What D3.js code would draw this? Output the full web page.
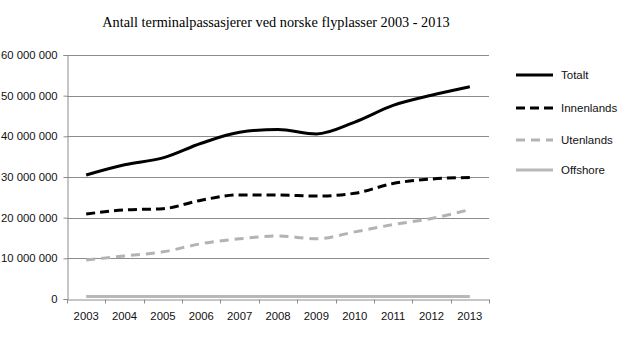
<!DOCTYPE html>
<html>
<head>
<meta charset="utf-8">
<script src="https://cdn.jsdelivr.net/npm/d3@7"></script>
<style>
	body { margin: 0; background: #fff; }
	svg { display: block; }
</style>
</head>
<body>
<svg id="chart"></svg>
<script>
var years = [2003, 2004, 2005, 2006, 2007, 2008, 2009, 2010, 2011, 2012, 2013];
var totalt = [30.5, 33.0, 34.7, 38.3, 41.0, 41.7, 40.6, 43.5, 47.6, 50.1, 52.2];
var innenlands = [20.9, 21.9, 22.2, 24.3, 25.6, 25.6, 25.3, 26.0, 28.4, 29.5, 29.9];
var utenlands = [9.6, 10.6, 11.6, 13.6, 14.8, 15.5, 14.8, 16.5, 18.3, 19.8, 22.0];
var offshore = [0.6, 0.6, 0.6, 0.6, 0.6, 0.6, 0.6, 0.6, 0.6, 0.6, 0.6];
var yTicks = [0, 10, 20, 30, 40, 50, 60];

var series = [
	{ name: "Totalt", values: totalt, color: "#000", dash: null, width: 3 },
	{ name: "Innenlands", values: innenlands, color: "#000", dash: "9,5", width: 3 },
	{ name: "Utenlands", values: utenlands, color: "#b3b3b3", dash: "9,6", width: 3 },
	{ name: "Offshore", values: offshore, color: "#b8b8b8", dash: null, width: 3 }
];

var w = 620, h = 337;
var margin = { left: 67, right: 131, top: 55, bottom: 38 };
var font = "'Liberation Sans', Arial, sans-serif";

var svg = d3.select("#chart")
	.attr("width", w)
	.attr("height", h);

var x = d3.scaleBand()
	.domain(years)
	.range([margin.left, w - margin.right]);

var y = d3.scaleLinear()
	.domain([0, 60])
	.range([h - margin.bottom, margin.top]);

// title
svg.append("text")
	.attr("x", 276)
	.attr("y", 26.5)
	.attr("text-anchor", "middle")
	.attr("font-family", "'Liberation Serif', 'Times New Roman', serif")
	.attr("font-size", "14.3px")
	.attr("fill", "#000")
	.text("Antall terminalpassasjerer ved norske flyplasser 2003 - 2013");

// horizontal gridlines
svg.append("g")
	.selectAll("line")
	.data(yTicks.slice(1))
	.enter().append("line")
	.attr("x1", margin.left)
	.attr("x2", w - margin.right)
	.attr("y1", function(d) { return Math.round(y(d)) + 0.5; })
	.attr("y2", function(d) { return Math.round(y(d)) + 0.5; })
	.attr("stroke", "#8c8c8c")
	.attr("stroke-width", 1);

var fmt = function(d) {
	return d3.format(",")(d * 1000000).replace(/,/g, " ");
};

var yAxis = svg.append("g")
	.attr("transform", "translate(" + (margin.left + 0.5) + ",0)")
	.call(d3.axisLeft(y).tickValues(yTicks).tickSize(4).tickPadding(6).tickFormat(fmt));

var xAxis = svg.append("g")
	.attr("transform", "translate(0," + (Math.round(y(0)) + 0.5) + ")")
	.call(d3.axisBottom(x).tickSize(0).tickPadding(12));

// tick marks sit on the category boundaries
xAxis.selectAll(".bound")
	.data(d3.range(years.length + 1))
	.enter().append("line")
	.attr("class", "bound")
	.attr("x1", function(i) { return Math.round(margin.left + i * x.step()) + 0.5; })
	.attr("x2", function(i) { return Math.round(margin.left + i * x.step()) + 0.5; })
	.attr("y1", 0)
	.attr("y2", 4)
	.attr("stroke", "#8c8c8c");

[yAxis, xAxis].forEach(function(ax) {
	ax.select(".domain").attr("stroke", "#8c8c8c");
	ax.selectAll(".tick line").attr("stroke", "#8c8c8c");
	ax.selectAll("text")
		.attr("font-family", font)
		.attr("font-size", "11.3px")
		.attr("fill", "#111");
});

var line = d3.line()
	.x(function(d, i) { return x(years[i]) + x.bandwidth() / 2; })
	.y(function(d) { return y(d); })
	.curve(d3.curveMonotoneX);

// draw back to front so Totalt ends on top
series.slice().reverse().forEach(function(s) {
	svg.append("path")
		.datum(s.values)
		.attr("d", line)
		.attr("fill", "none")
		.attr("stroke", s.color)
		.attr("stroke-width", s.width)
		.attr("stroke-dasharray", s.dash);
});

// legend
var legend = svg.append("g").attr("transform", "translate(516,75)");
var rows = [0, 33, 65, 95];
series.forEach(function(s, i) {
	var g = legend.append("g").attr("transform", "translate(0," + rows[i] + ")");
	g.append("line")
		.attr("x1", 0).attr("x2", 37)
		.attr("y1", 0).attr("y2", 0)
		.attr("stroke", s.color)
		.attr("stroke-width", s.width)
		.attr("stroke-dasharray", s.dash);
	g.append("text")
		.attr("x", 45)
		.attr("y", 4)
		.attr("font-family", font)
		.attr("font-size", "11.5px")
		.attr("fill", "#111")
		.text(s.name);
});
</script>
</body>
</html>
